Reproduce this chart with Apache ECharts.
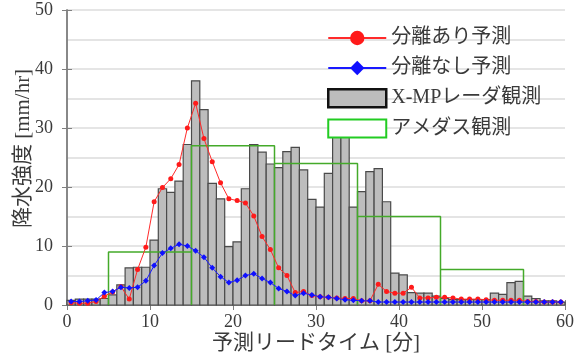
<!DOCTYPE html>
<html><head><meta charset="utf-8">
<script src="https://cdn.jsdelivr.net/npm/echarts@6/dist/echarts.min.js"></script>
<style>html,body{margin:0;padding:0;background:#fff}#c{width:582px;height:355px}</style>
</head><body><div id="c"></div>
<script>
// X-MP radar observation (per minute, 0..59)
const radar = [0.8,1.0,1.0,1.0,1.1,1.7,3.4,6.3,6.4,6.4,
  11.0,19.7,19.1,21.0,27.2,38.0,33.1,20.6,18.0,9.9,
  10.7,19.7,27.2,25.9,23.9,23.3,26.0,26.7,22.9,17.9,
  16.6,22.3,28.4,28.4,16.6,19.2,22.6,23.1,17.5,5.4,
  5.1,2.1,2.0,2.0,1.5,1.1,0.9,0.9,0.9,0.9,
  0.9,2.0,1.8,3.8,4.0,1.5,1.1,0.7,0.7,0.5];
// forecast with separation
const withSep = [0.4,0.3,0.3,0.6,1.5,2.2,3.1,1.0,6.0,9.8,
  17.5,19.9,21.4,23.8,30.0,34.2,28.2,24.3,20.7,18.0,
  17.7,17.3,15.1,11.6,9.4,6.3,5.0,2.1,2.3,1.6,
  1.4,1.3,1.2,1.1,1.1,0.7,0.7,3.5,2.3,2.0,
  2.0,3.0,1.2,1.2,1.3,1.3,1.2,1.0,1.0,1.0,
  0.9,0.8,0.8,0.8,0.8,0.6,0.6,0.5,0.5,0.5];
// forecast without separation
const noSep = [0.6,0.6,0.7,0.85,2.1,2.3,3.0,2.9,3.0,4.1,
  6.7,8.8,9.6,10.3,10.0,9.2,8.1,6.3,4.8,3.8,
  4.2,5.0,5.3,4.5,3.8,2.8,2.3,1.6,2.0,1.7,
  1.4,1.3,1.1,0.9,0.8,0.7,0.7,0.5,0.5,0.5,
  0.5,0.5,0.5,0.5,0.5,0.5,0.5,0.5,0.5,0.5,
  0.5,0.5,0.5,0.5,0.5,0.5,0.5,0.5,0.5,0.5];
// AMeDAS 10-minute observation
const amedasStart = [5,15,25,35,45];
const amedasValue = [9,27,24,15,6];
const amedasSpan = 10;

const names = ['分離あり予測','分離なし予測','X-MPレーダ観測','アメダス観測'];

const barData = radar.map((v,i)=>[i, i+1, v]);
const redData = withSep.map((v,i)=>[i+0.5,v]);
const blueData = noSep.map((v,i)=>[i+0.5,v]);
const greenData = [];
amedasStart.forEach((s,k)=>{
  const e = s + amedasSpan, v = amedasValue[k];
  greenData.push([s,0],[s,v],[e,v],[e,0]);
});

const serif = '"Liberation Serif","Noto Sans CJK JP",serif';
const txt = '#3a3a3a';
const axisLine = {show:true, lineStyle:{color:'#808080', width:1.5}};

const chart = echarts.init(document.getElementById('c'), null, {renderer:'canvas'});
chart.setOption({
  animation:false,
  backgroundColor:'#fff',
  grid:{left:67, right:17, top:10, bottom:50, containLabel:false, outerBoundsMode:'none'},
  legend:{
    orient:'vertical', left:322, top:23, itemWidth:58, itemHeight:18, itemGap:10,
    textStyle:{fontFamily:serif, fontSize:20, color:txt},
    data:[
      {name:names[0]},
      {name:names[1]},
      {name:names[2], icon:'rect', itemStyle:{color:'#bdbdbd', borderColor:'#111', borderWidth:2.5}},
      {name:names[3], icon:'rect', itemStyle:{color:'#fff', borderColor:'#22cc22', borderWidth:2}}
    ]
  },
  xAxis:[{
    type:'value', min:0, max:60, interval:10,
    name:'予測リードタイム [分]', nameLocation:'middle', nameGap:28, nameMoveOverlap:false,
    nameTextStyle:{fontFamily:serif, fontSize:21, color:txt},
    axisLine, axisTick:{show:true, inside:true, length:5, lineStyle:{color:'#808080'}},
    axisLabel:{fontFamily:serif, fontSize:18, color:txt, margin:8},
    splitLine:{show:false}
  },{
    type:'value', min:0, max:60, interval:10, position:'top',
    axisLine, axisTick:{show:true, inside:true, length:5, lineStyle:{color:'#808080'}},
    axisLabel:{show:false}, splitLine:{show:false}
  }],
  yAxis:[{
    type:'value', min:0, max:50, interval:10,
    name:'降水強度 [mm/hr]', nameLocation:'middle', nameGap:33, nameMoveOverlap:false,
    nameTextStyle:{fontFamily:serif, fontSize:21, color:txt, padding:[0,0,0,18]},
    axisLine, axisTick:{show:true, inside:true, length:5, lineStyle:{color:'#808080'}},
    axisLabel:{fontFamily:serif, fontSize:18, color:txt, margin:14},
    splitLine:{show:true, lineStyle:{color:'#dcdcdc', width:1.5}},
    minorTick:{show:false, splitNumber:2},
    minorSplitLine:{show:true, lineStyle:{color:'#dcdcdc', width:1.5}}
  },{
    type:'value', min:0, max:50, interval:10, position:'right',
    axisLine, axisTick:{show:true, inside:true, length:5, lineStyle:{color:'#808080'}},
    axisLabel:{show:false}, splitLine:{show:false}
  }],
  series:[
    {name:names[2], type:'custom', data:barData, z:1,
     itemStyle:{color:'#bdbdbd', borderColor:'#4a4a4a', borderWidth:1},
     encode:{x:[0,1], y:2},
     renderItem:function(params, api){
       const p0 = api.coord([api.value(0), 0]);
       const p1 = api.coord([api.value(1), api.value(2)]);
       return {type:'rect', shape:{x:p0[0], y:p1[1], width:p1[0]-p0[0], height:p0[1]-p1[1]},
         style:{fill:'#bdbdbd', stroke:'#4a4a4a', lineWidth:1.2}};
     }},
    {name:names[3], type:'line', data:greenData, showSymbol:false, symbol:'none',
     lineStyle:{color:'#44aa2a', width:1.5}, itemStyle:{color:'#44aa2a'}, z:2},
    {name:names[0], type:'line', data:redData, symbol:'circle', symbolSize:5,
     lineStyle:{color:'#ff2a2a', width:1}, itemStyle:{color:'#ff1a1a'}, z:3},
    {name:names[1], type:'line', data:blueData, symbol:'diamond', symbolSize:6,
     lineStyle:{color:'#1a1aff', width:1}, itemStyle:{color:'#1010ff'}, z:4}
  ]
});
</script></body></html>
